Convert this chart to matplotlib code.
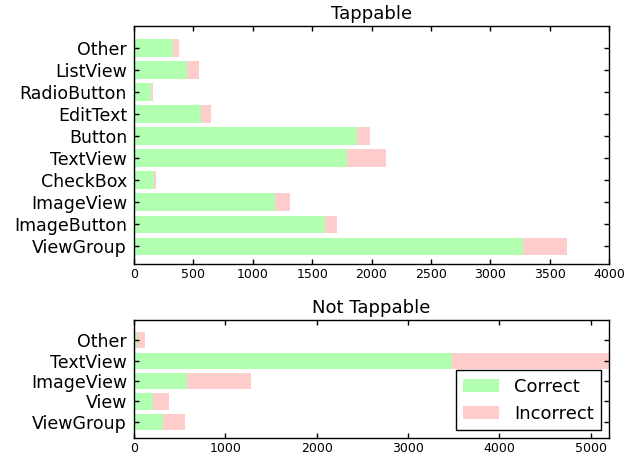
import matplotlib
matplotlib.use("Agg")
import matplotlib.pyplot as plt
import numpy as np

plt.rcParams['font.family'] = ['DejaVu Sans']

# Tappable (bottom to top)
tap_labels = ["ViewGroup", "ImageButton", "ImageView", "CheckBox", "TextView",
              "Button", "EditText", "RadioButton", "ListView", "Other"]
tap_correct = [3276, 1606, 1188, 166, 1791, 1881, 562, 141, 447, 328]
tap_incorrect = [374, 101, 123, 17, 329, 104, 84, 16, 98, 48]

# Not Tappable (bottom to top)
ntap_labels = ["ViewGroup", "View", "ImageView", "TextView", "Other"]
ntap_correct = [321, 208, 584, 3478, 36]
ntap_incorrect = [237, 175, 697, 1722, 84]

green = (0, 1, 0, 0.3)
red = (1, 0, 0, 0.2)

fig = plt.figure(figsize=(6.41, 4.55), dpi=100)
fig.patch.set_facecolor('white')

ax1 = fig.add_axes([134/641, 1-264/455, 475/641, 238/455])
ax2 = fig.add_axes([134/641, 1-438/455, 475/641, 118/455])


def draw(ax, labels, correct, incorrect, title):
    y = np.arange(len(labels))
    ax.barh(y, correct, height=0.8, color=green, linewidth=0, label="Correct")
    ax.barh(y, incorrect, left=correct, height=0.8, color=red, linewidth=0, label="Incorrect")
    ax.set_yticks(y)
    ax.set_yticklabels(labels, fontsize=12.5)
    ax.set_ylim(-0.8, len(labels))
    ax.set_title(title, fontsize=13, pad=5)
    ax.tick_params(direction='in', top=True, right=True, length=3.5, width=1)
    ax.tick_params(axis='x', labelsize=9, pad=3)
    ax.tick_params(axis='y', pad=5)
    for s in ax.spines.values():
        s.set_linewidth(1)


draw(ax1, tap_labels, tap_correct, tap_incorrect, "Tappable")
ax1.set_xlim(0, 4000)
ax1.set_xticks(np.arange(0, 4001, 500))

draw(ax2, ntap_labels, ntap_correct, ntap_incorrect, "Not Tappable")
ntot = np.array(ntap_correct) + np.array(ntap_incorrect)
ax2.set_xlim(0, ntot.max())
ax2.set_xticks(np.arange(0, 5001, 1000))
leg = ax2.legend(loc='lower right', fontsize=13, fancybox=False, frameon=True,
                 edgecolor='black', framealpha=1, borderaxespad=0.45,
                 handlelength=2.0, handleheight=0.7)
leg.get_frame().set_linewidth(1)

fig.savefig("out.png", dpi=100, facecolor='white')
